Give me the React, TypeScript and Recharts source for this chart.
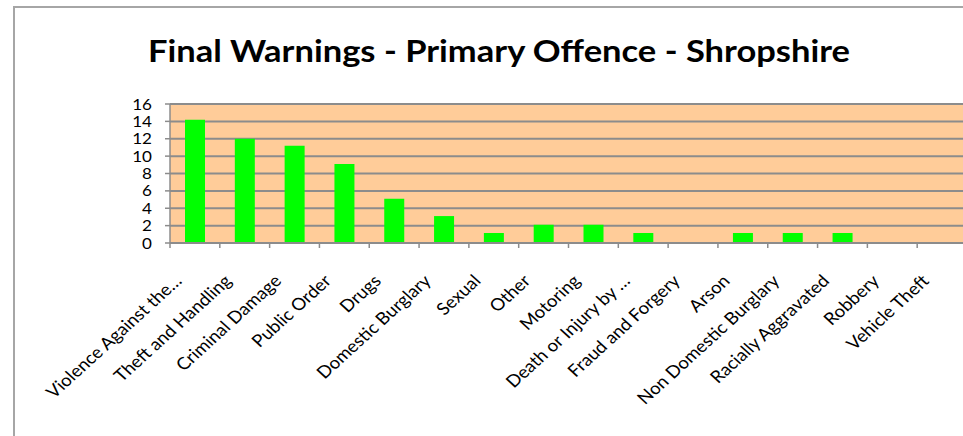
import React from "react";
import { BarChart, Bar, XAxis, YAxis, CartesianGrid } from "recharts";

const categories = [
  "Violence Against the…",
  "Theft and Handling",
  "Criminal Damage",
  "Public Order",
  "Drugs",
  "Domestic Burglary",
  "Sexual",
  "Other",
  "Motoring",
  "Death or Injury by …",
  "Fraud and Forgery",
  "Arson",
  "Non Domestic Burglary",
  "Racially Aggravated",
  "Robbery",
  "Vehicle Theft",
];

const warnings = [14.2, 12.0, 11.2, 9.1, 5.1, 3.1, 1.15, 2.1, 2.1, 1.15, 0, 1.15, 1.15, 1.15, 0, 0];

const yTicks = [0, 2, 4, 6, 8, 10, 12, 14, 16];

const title = "Final Warnings - Primary Offence - Shropshire";

const data = categories.map((name, i) => ({ name, value: warnings[i] }));

const CHART_W = 980;
const CHART_H = 436;
const MARGIN = { top: 104, right: 13, bottom: 0, left: 110 };
const Y_AXIS_W = 60;
const X_AXIS_H = 193;
const PLOT_W = CHART_W - MARGIN.left - MARGIN.right - Y_AXIS_W;
const BAND = PLOT_W / categories.length;
const FONT = "Lato, 'Open Sans', sans-serif";
const AXIS_GRAY = "#8c8c8c";
const STRETCH = 1.1;

const CategoryTick = (props: any) => {
  const { x, y, payload, index } = props;
  const left = x - BAND / 2;
  const right = x + BAND / 2;
  return (
    <g>
      <line x1={left} y1={y} x2={left} y2={y + 5} stroke={AXIS_GRAY} strokeWidth={1.5} />
      {index === categories.length - 1 && (
        <line x1={right} y1={y} x2={right} y2={y + 5} stroke={AXIS_GRAY} strokeWidth={1.5} />
      )}
      <text
        x={0}
        y={0}
        transform={`translate(${x - 12}, ${y + 39}) scale(${STRETCH},1) rotate(-45)`}
        textAnchor="end"
        fontFamily={FONT}
        fontSize={17}
        fill="#000"
      >
        {payload.value}
      </text>
    </g>
  );
};

const ValueTick = (props: any) => {
  const { x, y, payload } = props;
  return (
    <text
      x={0}
      y={0}
      dy="0.36em"
      transform={`translate(${x}, ${y}) scale(${STRETCH},1)`}
      textAnchor="end"
      fontFamily={FONT}
      fontSize={15.5}
      fill="#000"
    >
      {payload.value}
    </text>
  );
};

export default function App() {
  return (
    <div
      style={{
        position: "absolute",
        left: 0,
        top: 0,
        width: 963,
        height: 436,
        overflow: "hidden",
        background: "#fff",
      }}
    >
      <div
        style={{
          position: "absolute",
          left: 13,
          top: 6,
          width: 1000,
          height: 500,
          border: "2px solid #a6a6a6",
        }}
      />
      <div style={{ position: "absolute", left: 0, top: 0 }}>
        <BarChart width={CHART_W} height={CHART_H} data={data} margin={MARGIN}>
          <CartesianGrid
            horizontal={true}
            vertical={false}
            stroke={AXIS_GRAY}
            strokeWidth={2}
            fill="#FFCC99"
            fillOpacity={1}
          />
          <XAxis
            dataKey="name"
            interval={0}
            height={X_AXIS_H}
            tickSize={0}
            tickMargin={0}
            axisLine={{ stroke: AXIS_GRAY, strokeWidth: 2 }}
            tick={<CategoryTick />}
          />
          <YAxis
            width={Y_AXIS_W}
            domain={[0, 16]}
            ticks={yTicks}
            interval={0}
            tickSize={5}
            tickMargin={13}
            axisLine={{ stroke: AXIS_GRAY, strokeWidth: 1.5 }}
            tickLine={{ stroke: AXIS_GRAY, strokeWidth: 1.5 }}
            tick={<ValueTick />}
          />
          <Bar dataKey="value" fill="#00FF00" barSize={20} isAnimationActive={false} />
        </BarChart>
      </div>
      <svg
        width={963}
        height={436}
        style={{ position: "absolute", left: 0, top: 0, pointerEvents: "none" }}
      >
        <text
          x={499}
          y={62}
          textAnchor="middle"
          textLength={702}
          lengthAdjust="spacingAndGlyphs"
          fontFamily={FONT}
          fontWeight="bold"
          fontSize={30.5}
          fill="#000"
        >
          {title}
        </text>
      </svg>
    </div>
  );
}
